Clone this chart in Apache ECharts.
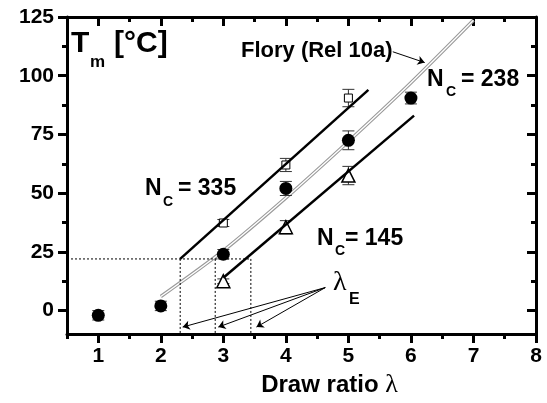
<!DOCTYPE html>
<html><head><meta charset="utf-8">
<script src="https://cdn.jsdelivr.net/npm/echarts@6/dist/echarts.min.js"></script>
<style>html,body{margin:0;padding:0;background:#fff}#c{width:547px;height:403px}</style>
</head><body><div id="c"></div>
<script>
// ---- data ----
const xMajorTicks = [1, 2, 3, 4, 5, 6, 7, 8];
const xMinorTicks = [0.5, 1.5, 2.5, 3.5, 4.5, 5.5, 6.5, 7.5];
const yMajorTicks = [0, 25, 50, 75, 100, 125];
const yMinorTicks = [12.5, 37.5, 62.5, 87.5, 112.5];

const circleX = [1, 2, 3, 4, 5, 6];          // N_C = 238
const circleY = [-2, 2, 24, 52, 72.5, 90.5];
const circleErr = [2, 2, 2, 3, 4, 2.5];

const squareX = [3, 4, 5];                   // N_C = 335
const squareY = [37.3, 62, 90.5];
const squareErr = [1.5, 2.8, 3.7];

const triangleX = [3, 4, 5];                 // N_C = 145
const triangleY = [12.5, 35.5, 57.5];
const triangleErr = [1, 2.8, 3.9];

const fit335X = [2.31, 5.32];
const fit335Y = [22, 94];
const fit145X = [3.0, 6.05];
const fit145Y = [14, 83];
const floryX = [2, 3, 4, 5, 6, 7];
const floryY = [6, 25.5, 48, 72, 97, 123.6];

const lambdaEY = 22;
const lambdaEX = [2.31, 2.87, 3.44];
const axisBottomY = -10;

const arrowFromX = 4.63, arrowFromY = 9.8;
const arrowToX = [2.35, 2.92, 3.53];
const arrowToY = -7;
const floryArrowX = [5.71, 6.22];
const floryArrowY = [110.2, 105.6];

// ---- build ----
const FONT = "'Liberation Sans', Arial, sans-serif";
const zip = (xs, ys) => xs.map((x, i) => [x, ys[i]]);
const errData = (xs, ys, es) => xs.map((x, i) => [x, ys[i] - es[i], ys[i] + es[i]]);

function xAx(pos, ticks, len, inside, main) {
  return {
    type: 'value', position: pos, min: 0.5, max: 8, gridIndex: 0,
    axisLine: { show: main, onZero: false, lineStyle: { color: '#000', width: 3 } },
    axisTick: { show: true, customValues: ticks, length: len, inside: inside, lineStyle: { color: '#000', width: 3 } },
    axisLabel: pos === 'bottom' && main ? { customValues: xMajorTicks, color: '#000', fontSize: 21, fontWeight: 'bold', fontFamily: FONT, margin: 12 } : { show: false },
    splitLine: { show: false },
    name: pos === 'bottom' && main ? 'Draw ratio {l|λ}' : '',
    nameLocation: 'middle', nameGap: 31,
    nameTextStyle: { color: '#000', fontSize: 24, fontWeight: 'bold', fontFamily: FONT, padding: [0, 0, 0, 56],
      rich: { l: { fontSize: 26, fontFamily: "'Liberation Serif', serif", fontWeight: 'normal', color: '#000' } } }
  };
}
function yAx(pos, ticks, len, inside, main) {
  return {
    type: 'value', position: pos, min: -10, max: 125, gridIndex: 0,
    axisLine: { show: main, onZero: false, lineStyle: { color: '#000', width: 3 } },
    axisTick: { show: true, customValues: ticks, length: len, inside: inside, lineStyle: { color: '#000', width: 3 } },
    axisLabel: pos === 'left' && main ? { customValues: yMajorTicks, color: '#000', fontSize: 21, fontWeight: 'bold', fontFamily: FONT, margin: 13 } : { show: false },
    splitLine: { show: false }
  };
}

function txt(x, y, text, size, extra) {
  return {
    type: 'text', x: x, y: y, z: 100,
    style: Object.assign({ text: text, fontSize: size, fontWeight: 'bold', fontFamily: FONT, fill: '#000', verticalAlign: 'middle', align: 'left' }, extra || {})
  };
}

const errorSeries = (data) => ({
  type: 'custom', xAxisIndex: 0, yAxisIndex: 0, z: 3,
  data: data,
  renderItem: function (params, api) {
    const x = api.value(0);
    const lo = api.coord([x, api.value(1)]);
    const hi = api.coord([x, api.value(2)]);
    const w = 6;
    const st = { stroke: '#333', lineWidth: 1, fill: 'none' };
    return { type: 'group', children: [
      { type: 'line', shape: { x1: lo[0], y1: lo[1], x2: hi[0], y2: hi[1] }, style: st },
      { type: 'line', shape: { x1: lo[0] - w, y1: lo[1], x2: lo[0] + w, y2: lo[1] }, style: st },
      { type: 'line', shape: { x1: hi[0] - w, y1: hi[1], x2: hi[0] + w, y2: hi[1] }, style: st }
    ] };
  }
});

const lineSeries = (data, style, extra) => Object.assign({
  type: 'line', xAxisIndex: 0, yAxisIndex: 0, data: data, symbol: 'none', silent: true,
  lineStyle: style, animation: false
}, extra || {});

const dotted = { color: '#000', width: 1, type: [2, 2] };
const dottedSeries = [lineSeries([[0.5, lambdaEY], [lambdaEX[2], lambdaEY]], dotted)]
  .concat(lambdaEX.map(x => lineSeries([[x, lambdaEY], [x, axisBottomY]], dotted)));

const arrowData = arrowToX.map(x => ({ coords: [[arrowFromX, arrowFromY], [x, arrowToY]] }));
arrowData.push({ coords: zip(floryArrowX, floryArrowY) });

const option = {
  animation: false,
  backgroundColor: '#fff',
  grid: { left: 67, right: 11, top: 17, bottom: 66, containLabel: false },
  xAxis: [
    xAx('bottom', xMajorTicks, 9, false, true),
    xAx('bottom', xMinorTicks, 5, false, false),
    xAx('top', xMajorTicks, 9, true, true),
    xAx('top', xMinorTicks, 5, true, false)
  ],
  yAxis: [
    yAx('left', yMajorTicks, 9, false, true),
    yAx('left', yMinorTicks, 5, false, false),
    yAx('right', yMajorTicks, 9, true, true),
    yAx('right', yMinorTicks, 5, true, false)
  ],
  series: [
    ...dottedSeries,
    lineSeries(zip(floryX, floryY), { color: '#9a9a9a', width: 3.5 }, { smooth: 0.3, z: 2 }),
    lineSeries(zip(floryX, floryY), { color: '#fff', width: 1.3 }, { smooth: 0.3, z: 2 }),
    errorSeries(errData(circleX, circleY, circleErr)),
    errorSeries(errData(squareX, squareY, squareErr)),
    errorSeries(errData(triangleX, triangleY, triangleErr)),
    { type: 'scatter', data: zip(circleX, circleY), symbol: 'circle', symbolSize: 13, itemStyle: { color: '#000', opacity: 1 }, z: 4 },
    { type: 'scatter', data: zip(squareX, squareY), symbol: 'rect', symbolSize: 8, itemStyle: { color: '#fff', borderColor: '#000', borderWidth: 1, opacity: 1 }, z: 4 },
    { type: 'scatter', data: zip(triangleX, triangleY), symbol: 'triangle', symbolSize: 13, itemStyle: { color: '#fff', borderColor: '#000', borderWidth: 1.5, opacity: 1 }, z: 4 },
    lineSeries(zip(fit335X, fit335Y), { color: '#000', width: 2.5 }, { z: 5 }),
    lineSeries(zip(fit145X, fit145Y), { color: '#000', width: 2.5 }, { z: 5 }),
    { type: 'lines', coordinateSystem: 'cartesian2d', xAxisIndex: 0, yAxisIndex: 0, data: arrowData,
      symbol: ['none', 'arrow'], symbolSize: 7, lineStyle: { color: '#000', width: 1, opacity: 1 }, z: 6, silent: true }
  ],
  graphic: [
    txt(71, 44, 'T', 30),
    txt(90, 62, 'm', 17),
    txt(114, 44, '[°C]', 30),
    txt(241, 51, 'Flory (Rel 10a)', 22),
    txt(427, 80, 'N', 23), txt(446, 92, 'C', 14), txt(461, 80, '= 238', 23),
    txt(145, 189, 'N', 23), txt(163, 202, 'C', 14), txt(178, 189, '= 335', 23),
    txt(317, 239, 'N', 23), txt(335, 251, 'C', 14), txt(345, 239, '= 145', 23),
    txt(333, 283, 'λ', 28, { fontWeight: 'normal', fontFamily: "'Liberation Serif', serif" }),
    txt(349, 300, 'E', 16)
  ]
};

const chart = echarts.init(document.getElementById('c'), null, { renderer: 'canvas' });
chart.setOption(option);
</script>
</body></html>
